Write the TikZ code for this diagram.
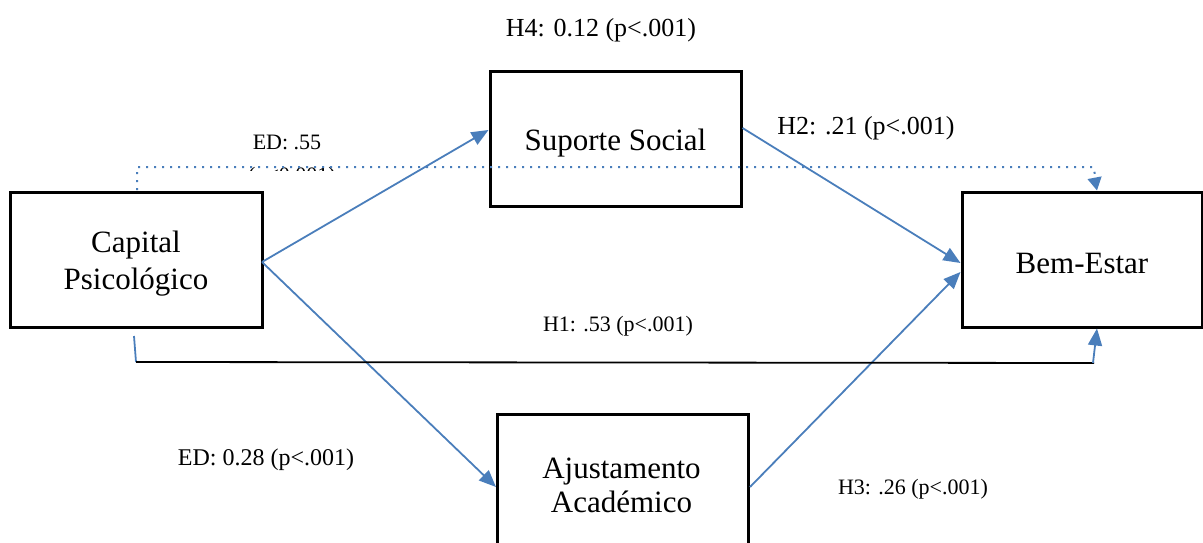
\documentclass[tikz,border=0pt]{standalone}
\usepackage{fontspec}
\setmainfont{Liberation Serif}
\usetikzlibrary{arrows.meta}
\definecolor{lineblue}{HTML}{4A7EBB}
\begin{document}
\begin{tikzpicture}[x=1pt,y=-1pt,
  box/.style={draw=black,line width=3pt,inner sep=0pt},
  boxtext/.style={inner sep=0pt,align=center,font=\fontsize{31}{37}\selectfont},
  lbl/.style={inner sep=0pt,font=\fontsize{22}{26}\selectfont},
  midlbl/.style={inner sep=0pt,font=\fontsize{24}{28}\selectfont},
  biglbl/.style={inner sep=0pt,font=\fontsize{26}{30}\selectfont},
  conn/.style={draw=lineblue,line width=1.8pt,-{Triangle[length=17pt,width=14pt]}},
  plain/.style={draw=lineblue,line width=1.8pt},
  dots/.style={draw=lineblue,line width=2pt,dash pattern=on 2pt off 6pt}]
\useasboundingbox (0,0) rectangle (1203,543);
\node[box,minimum width=252pt,minimum height=135pt] (cp) at (136,259.5) {};
\node[boxtext] (cpt) at (136,264) {Capital\\Psicológico};
\node[box,minimum width=251pt,minimum height=134pt] (ss) at (615.5,139) {};
\node[boxtext] (sst) at (615.5,143) {Suporte Social};
\node[box,minimum width=240pt,minimum height=135pt] (be) at (1082,259.5) {};
\node[boxtext] (bet) at (1082,264) {Bem-Estar};
\node[box,minimum width=251pt,minimum height=150pt,anchor=north west] (aa) at (496,413) {};
\node[align=center,inner sep=0pt,font=\fontsize{31}{34}\selectfont] (aat) at (621.5,485) {Ajustamento\\Académico};
% labels
\node[biglbl] (h4) at (601,30) {H4: 0.12 (p<.001)};
\node[lbl] (ed1) at (287,142) {ED: .55};
\begin{scope}
\clip (200,150) rectangle (360,170);
\node[lbl] (ed1p) at (292,177) {(p<0.001)};
\end{scope}
\node[biglbl] (h2) at (866,128) {H2: .21 (p<.001)};
\node[lbl] (h1) at (618,326) {H1: .53 (p<.001)};
\node[midlbl] (ed2) at (266,460) {ED: 0.28 (p<.001)};
\node[lbl] (h3) at (913,489) {H3: .26 (p<.001)};
% connectors
\coordinate (cpr) at (262,262);
\draw[conn] (cpr) -- (ss.west |- 0,130);
\draw[conn] (cpr) -- (aa.west |- 0,487);
\draw[conn] (ss.east |- 0,128) -- (be.west |- 0,263);
\draw[conn] (aa.east |- 0,487) -- (be.west |- 0,272);
% dotted direct effect
\coordinate (d0) at (137,190);
\coordinate (d1) at (137,167);
\coordinate (d2) at (1093,167);
\draw[dots] (d0) -- (d1) -- (d2) -- (1096,178);
\draw[conn,-{Triangle[length=13pt,width=14pt]}] (1095,180) -- (be.north -| 1097,0);
% H1 path
\coordinate (h1a) at (134,336);
\coordinate (h1b) at (136,362);
\coordinate (h1c) at (1094,363);
\draw[plain] (h1a) -- (h1b);
\draw[black,line width=1.8pt] (h1b) -- (h1c);
\draw[conn] (1093,363) -- (be.south -| 1097,0);
\end{tikzpicture}
\end{document}
